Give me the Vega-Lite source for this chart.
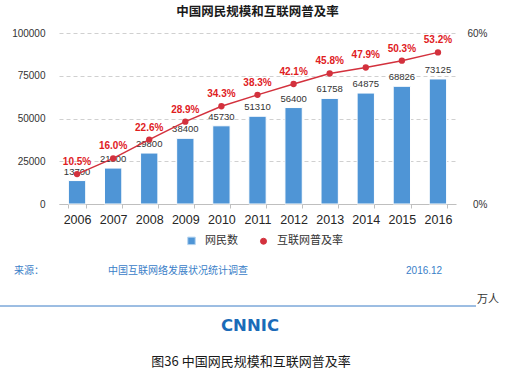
{
  "$schema": "https://vega.github.io/schema/vega-lite/v6.json",
  "width": 397,
  "height": 171,
  "autosize": {"type": "none"},
  "padding": {"left": 59, "top": 33, "right": 51, "bottom": 173},
  "background": "white",
  "title": {
    "text": "中国网民规模和互联网普及率",
    "font": "Noto Sans CJK SC",
    "fontSize": 12.5,
    "fontWeight": "bold",
    "color": "#1a1a1a",
    "anchor": "middle",
    "offset": 10
  },
  "config": {"view": {"stroke": null}, "font": "Liberation Sans"},
  "datasets": {
    "main": [
      {"year": "2006", "users": 13700, "rate": 0.105},
      {"year": "2007", "users": 21000, "rate": 0.160},
      {"year": "2008", "users": 29800, "rate": 0.226},
      {"year": "2009", "users": 38400, "rate": 0.289},
      {"year": "2010", "users": 45730, "rate": 0.343},
      {"year": "2011", "users": 51310, "rate": 0.383},
      {"year": "2012", "users": 56400, "rate": 0.421},
      {"year": "2013", "users": 61758, "rate": 0.458},
      {"year": "2014", "users": 64875, "rate": 0.479},
      {"year": "2015", "users": 68826, "rate": 0.503},
      {"year": "2016", "users": 73125, "rate": 0.532}
    ]
  },
  "layer": [
    {
      "data": {"name": "main"},
      "encoding": {
        "x": {
          "field": "year",
          "type": "ordinal",
          "scale": {"paddingInner": 0.52, "paddingOuter": 0.26},
          "axis": {
            "title": null,
            "labelAngle": 0,
            "labelFont": "Liberation Sans",
            "labelFontSize": 12.5,
            "labelColor": "#262626",
            "labelPadding": 5,
            "domainColor": "#bfbfbf",
            "tickColor": "#bfbfbf",
            "tickSize": 4,
            "tickBand": "extent",
            "grid": false
          }
        }
      },
      "layer": [
        {
          "encoding": {
            "y": {
              "field": "users",
              "type": "quantitative",
              "scale": {"domain": [0, 100000], "nice": false},
              "axis": {
                "orient": "left",
                "title": null,
                "values": [0, 25000, 50000, 75000, 100000],
                "format": "d",
                "domain": false,
                "ticks": false,
                "labelPadding": 14,
                "labelFont": "Liberation Sans",
                "labelFontSize": 10,
                "labelColor": "#333333",
                "grid": true,
                "gridDash": [4, 3],
                "gridColor": "#d0d0d0"
              }
            }
          },
          "layer": [
            {
              "mark": {"type": "bar", "stroke": "white", "strokeWidth": 1},
              "encoding": {
                "color": {
                  "datum": "网民数",
                  "type": "nominal",
                  "scale": {"domain": ["网民数", "互联网普及率"], "range": ["#4f95d6", "#d3313d"]},
                  "legend": {
                    "title": null,
                    "orient": "none",
                    "legendX": 127,
                    "legendY": 202,
                    "direction": "horizontal",
                    "labelFont": "Noto Sans CJK SC",
                    "labelFontSize": 11,
                    "labelColor": "#333333",
                    "labelOffset": 8,
                    "columnPadding": 20,
                    "symbolSize": 64,
                    "encoding": {
                      "symbols": {
                        "shape": {"value": {"expr": "datum.value === '网民数' ? 'square' : 'circle'"}},
                        "size": {"value": {"expr": "datum.value === '网民数' ? 56 : 36"}},
                        "stroke": {"value": {"expr": "datum.value === '网民数' ? '#b5d4f0' : '#d3313d'"}},
                        "strokeWidth": {"value": 1}
                      }
                    }
                  }
                }
              }
            },
            {
              "mark": {"type": "text", "baseline": "bottom", "dy": -4, "fontSize": 9.5, "font": "Liberation Sans", "color": "#333333"},
              "encoding": {"text": {"field": "users", "type": "quantitative", "format": "d"}}
            }
          ]
        },
        {
          "encoding": {
            "y": {
              "field": "rate",
              "type": "quantitative",
              "scale": {"domain": [0, 0.6], "nice": false},
              "axis": {
                "orient": "right",
                "title": null,
                "values": [0, 0.6],
                "format": ".0%",
                "domain": false,
                "ticks": false,
                "grid": false,
                "labelAlign": "right",
                "labelPadding": 31,
                "labelFont": "Liberation Sans",
                "labelFontSize": 10,
                "labelColor": "#333333"
              }
            }
          },
          "layer": [
            {"mark": {"type": "line", "color": "#d3313d", "strokeWidth": 1.5}},
            {
              "mark": {"type": "point", "filled": true, "size": 40, "opacity": 1},
              "encoding": {"color": {"datum": "互联网普及率", "type": "nominal"}}
            },
            {
              "mark": {"type": "text", "baseline": "bottom", "dy": -7, "fontSize": 10, "fontWeight": "bold", "font": "Liberation Sans", "color": "#e0201e"},
              "encoding": {"text": {"field": "rate", "type": "quantitative", "format": ".1%"}}
            }
          ]
        }
      ],
      "resolve": {"scale": {"y": "independent"}}
    },
    {
      "layer": [
        {
          "data": {"values": [{"label": "来源："}]},
          "mark": {"type": "text", "align": "left", "baseline": "middle", "font": "Noto Sans CJK SC", "fontSize": 10, "color": "#3a80c8"},
          "encoding": {
            "x": {"datum": -11.34, "type": "quantitative", "scale": {"domain": [0, 100]}, "axis": null},
            "y": {"datum": -39.2, "type": "quantitative", "scale": {"domain": [0, 100]}, "axis": null},
            "text": {"field": "label"}
          }
        },
        {
          "data": {"values": [{"label": "中国互联网络发展状况统计调查"}]},
          "mark": {"type": "text", "align": "left", "baseline": "middle", "font": "Noto Sans CJK SC", "fontSize": 10, "color": "#3a80c8"},
          "encoding": {
            "x": {"datum": 12.34, "type": "quantitative", "scale": {"domain": [0, 100]}, "axis": null},
            "y": {"datum": -39.2, "type": "quantitative", "scale": {"domain": [0, 100]}, "axis": null},
            "text": {"field": "label"}
          }
        },
        {
          "data": {"values": [{"label": "2016.12"}]},
          "mark": {"type": "text", "align": "left", "baseline": "middle", "font": "Liberation Sans", "fontSize": 10, "color": "#3a80c8"},
          "encoding": {
            "x": {"datum": 87.41, "type": "quantitative", "scale": {"domain": [0, 100]}, "axis": null},
            "y": {"datum": -39.2, "type": "quantitative", "scale": {"domain": [0, 100]}, "axis": null},
            "text": {"field": "label"}
          }
        },
        {
          "data": {"values": [{"label": "rule"}]},
          "mark": {"type": "rule", "color": "#3a7cc6", "strokeWidth": 1},
          "encoding": {
            "x": {"datum": -14.86, "type": "quantitative", "scale": {"domain": [0, 100]}, "axis": null},
            "x2": {"datum": 105.04},
            "y": {"datum": -59.65, "type": "quantitative", "scale": {"domain": [0, 100]}, "axis": null}
          }
        },
        {
          "data": {"values": [{"label": "万人"}]},
          "mark": {"type": "text", "align": "left", "baseline": "middle", "font": "Noto Sans CJK SC", "fontSize": 11, "color": "#333333"},
          "encoding": {
            "x": {"datum": 105.29, "type": "quantitative", "scale": {"domain": [0, 100]}, "axis": null},
            "y": {"datum": -56.14, "type": "quantitative", "scale": {"domain": [0, 100]}, "axis": null},
            "text": {"field": "label"}
          }
        },
        {
          "data": {"values": [{"label": "CNNIC"}]},
          "mark": {"type": "text", "align": "center", "baseline": "middle", "font": "DejaVu Sans", "fontSize": 16.5, "fontWeight": "bold", "color": "#1a6bb8"},
          "encoding": {
            "x": {"datum": 48.11, "type": "quantitative", "scale": {"domain": [0, 100]}, "axis": null},
            "y": {"datum": -71.35, "type": "quantitative", "scale": {"domain": [0, 100]}, "axis": null},
            "text": {"field": "label"}
          }
        },
        {
          "data": {"values": [{"label": "图36  中国网民规模和互联网普及率"}]},
          "mark": {"type": "text", "align": "center", "baseline": "middle", "font": "Noto Sans CJK SC", "fontSize": 13, "color": "#1a1a1a"},
          "encoding": {
            "x": {"datum": 48.36, "type": "quantitative", "scale": {"domain": [0, 100]}, "axis": null},
            "y": {"datum": -92.4, "type": "quantitative", "scale": {"domain": [0, 100]}, "axis": null},
            "text": {"field": "label"}
          }
        }
      ]
    }
  ],
  "resolve": {"scale": {"x": "independent", "y": "independent"}}
}
